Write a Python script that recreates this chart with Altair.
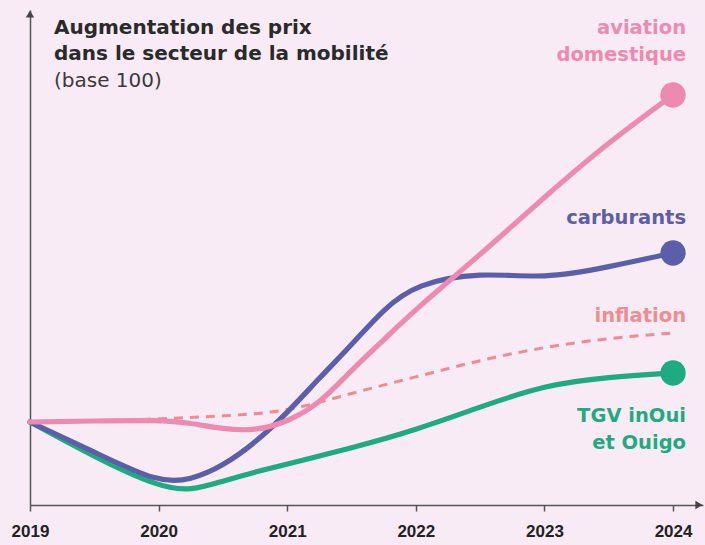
import altair as alt
import pandas as pd

# ---- data (index, base 100 in 2019) ----
years_fine = [2019, 2019.5, 2020, 2020.25, 2020.5, 2020.75, 2021, 2021.25, 2021.5, 2021.75, 2022, 2022.5, 2023, 2023.5, 2024]
aviation = [100, 100.2, 100.4, 99.8, 98.6, 98.2, 100, 103.6, 110.4, 116.4, 122.6, 133.4, 145, 156, 165.4]
carburants = [100, 94, 87.8, 88.4, 91.2, 95.8, 101.8, 108.8, 115.4, 122.6, 127.6, 130, 128.6, 131, 133.8]

years_infl = [2019, 2019.5, 2020, 2020.5, 2021, 2021.5, 2022, 2022.5, 2023, 2023.5, 2024]
inflation = [100, 100.2, 100.6, 101.2, 102, 105.8, 109, 112.4, 115, 116.8, 117.8]

years_tgv = [2019, 2019.5, 2020, 2020.25, 2020.5, 2020.75, 2021, 2021.5, 2022, 2022.5, 2023, 2023.5, 2024]
tgv = [100, 93, 87.0, 86.2, 88.2, 90.0, 91.6, 94.8, 98.4, 103, 107.4, 109, 109.8]

series = ["aviation domestique", "carburants", "inflation", "TGV inOui et Ouigo"]
colors = ["#ee8ab0", "#5b5ea8", "#ee8c92", "#1eab82"]
tick_years = [2019, 2020, 2021, 2022, 2023, 2024]

title_lines = ["Augmentation des prix", "dans le secteur de la mobilité"]
subtitle = "(base 100)"

rows = []
for y, v in zip(years_fine, aviation):
    rows.append({"year": y, "value": v, "series": series[0]})
for y, v in zip(years_fine, carburants):
    rows.append({"year": y, "value": v, "series": series[1]})
for y, v in zip(years_infl, inflation):
    rows.append({"year": y, "value": v, "series": series[2]})
for y, v in zip(years_tgv, tgv):
    rows.append({"year": y, "value": v, "series": series[3]})
df = pd.DataFrame(rows)

ends = pd.DataFrame({
    "year": [2024, 2024, 2024],
    "value": [aviation[-1], carburants[-1], tgv[-1]],
    "series": [series[0], series[1], series[3]],
})

XMIN, XMAX = 2019, 2024.233
YMIN, YMAX = 83.4, 182.4

xs = alt.Scale(domain=[XMIN, XMAX], nice=False, zero=False)
ys = alt.Scale(domain=[YMIN, YMAX], nice=False, zero=False)
cs = alt.Scale(domain=series, range=colors)

x_enc = alt.X("year:Q", scale=xs, axis=alt.Axis(
    values=tick_years, format="d", title=None, grid=False,
    domainColor="#555555", domainWidth=1.5, tickColor="#555555", tickSize=6, tickWidth=1.5,
    labelFont="Liberation Sans", labelFontWeight="bold", labelFontSize=17,
    labelColor="#222222", labelPadding=12, labelFlush=False, labelOverlap=False))
y_enc = alt.Y("value:Q", scale=ys, axis=alt.Axis(
    title=None, labels=False, ticks=False, grid=False,
    domainColor="#555555", domainWidth=1.5))
c_enc = alt.Color("series:N", scale=cs, legend=None)

base = alt.Chart(df)

infl = base.transform_filter(alt.datum.series == series[2]).mark_line(
    interpolate="basis", strokeWidth=3, strokeDash=[9, 7]
).encode(x=x_enc, y=y_enc, color=c_enc)

solid = []
for s in [series[3], series[1], series[0]]:
    solid.append(base.transform_filter(alt.datum.series == s).mark_line(
        interpolate="basis", strokeWidth=5.2, strokeCap="round"
    ).encode(x=x_enc, y=y_enc, color=c_enc))

dots = alt.Chart(ends).mark_circle(size=640, opacity=1).encode(
    x=alt.X("year:Q", scale=xs), y=alt.Y("value:Q", scale=ys), color=c_enc)

# axis arrows
arrow_up = alt.Chart(pd.DataFrame({"x": [XMIN], "y": [YMAX]})).mark_point(
    shape="triangle-up", filled=True, size=70, color="#444444", opacity=1, yOffset=4
).encode(x=alt.X("x:Q", scale=xs), y=alt.Y("y:Q", scale=ys))
arrow_right = alt.Chart(pd.DataFrame({"x": [XMAX], "y": [YMIN]})).mark_point(
    shape="triangle-right", filled=True, size=70, color="#444444", opacity=1, xOffset=-4
).encode(x=alt.X("x:Q", scale=xs), y=alt.Y("y:Q", scale=ys))

# series labels
LX = 2024.101
def label(text, value, dy, color):
    return alt.Chart(pd.DataFrame({"x": [LX], "y": [value], "t": [text]})).mark_text(
        align="right", baseline="middle", dy=dy, font="DejaVu Sans", fontWeight="bold",
        fontSize=19.5, color=color
    ).encode(x=alt.X("x:Q", scale=xs), y=alt.Y("y:Q", scale=ys), text="t:N")

labels = [
    label("aviation", aviation[-1], -67, colors[0]),
    label("domestique", aviation[-1], -40, colors[0]),
    label("carburants", carburants[-1], -35, colors[1]),
    label("inflation", inflation[-1], -17, colors[2]),
    label("TGV inOui", tgv[-1], 43, colors[3]),
    label("et Ouigo", tgv[-1], 70, colors[3]),
]

title_marks = []
for i, t in enumerate(title_lines):
    title_marks.append(alt.Chart(pd.DataFrame({"t": [t]})).mark_text(
        align="left", baseline="middle", font="DejaVu Sans", fontWeight="bold",
        fontSize=20, color="#2a2a2a"
    ).encode(x=alt.value(24), y=alt.value(18 + 26 * i), text="t:N"))
title_marks.append(alt.Chart(pd.DataFrame({"t": [subtitle]})).mark_text(
    align="left", baseline="middle", font="DejaVu Sans", fontWeight="normal",
    fontSize=20, color="#3a3a3a"
).encode(x=alt.value(24), y=alt.value(71), text="t:N"))

chart = alt.layer(
    infl, *solid, dots, arrow_up, arrow_right, *labels, *title_marks
).properties(
    width=673, height=495,
    padding={"left": 30, "top": 10, "right": 2, "bottom": 40},
    autosize=alt.AutoSizeParams(type="none"),
    background="#f9ebf5",
).configure_view(stroke=None)

chart.save("out.html", embed_options={"renderer": "svg", "actions": False})
